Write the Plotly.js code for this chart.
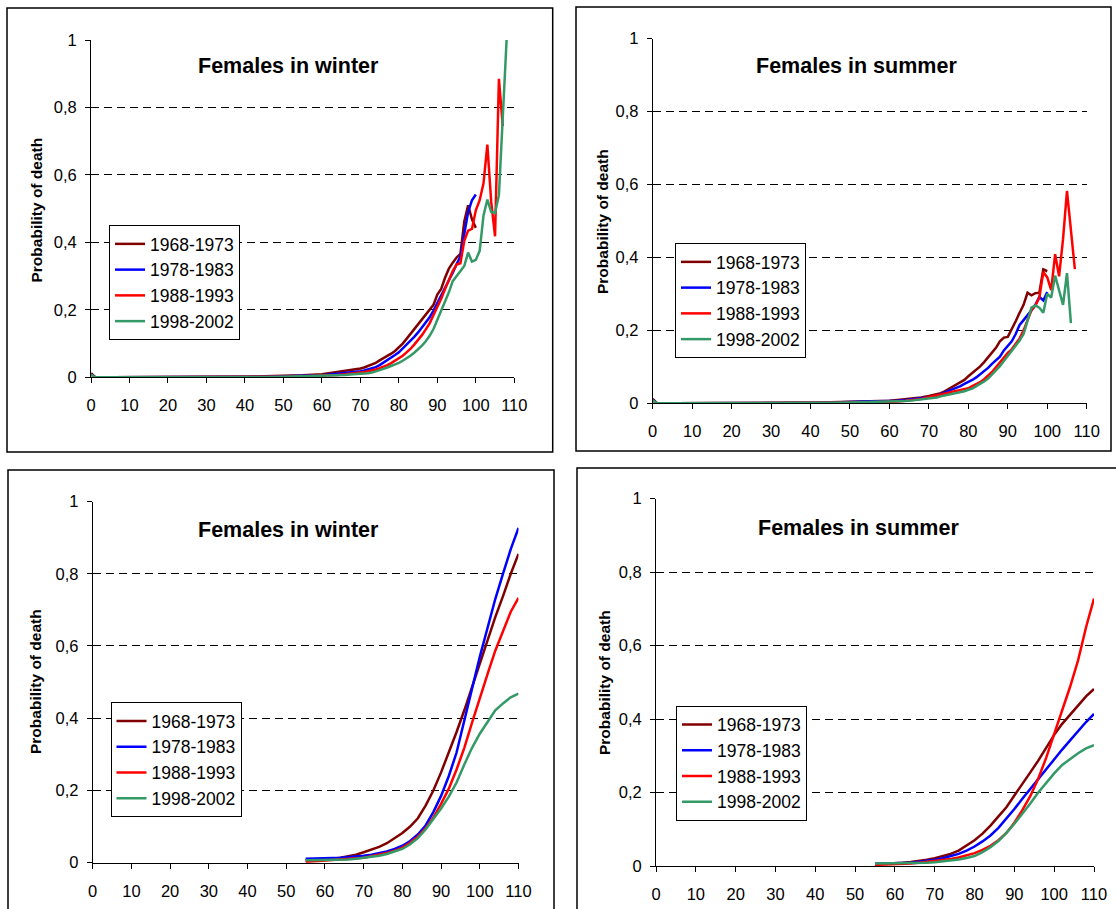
<!DOCTYPE html>
<html>
<head>
<meta charset="utf-8">
<script src="https://cdn.plot.ly/plotly-3.0.1.min.js"></script>
<style>
html,body{margin:0;padding:0;background:#fff;}
#chart{width:1116px;height:909px;}
</style>
</head>
<body>
<div id="chart"></div>
<script>
// ---------- DATA ----------
const seriesNames = ["1968-1973", "1978-1983", "1988-1993", "1998-2002"];
const panelTitles = ["Females in winter", "Females in summer", "Females in winter", "Females in summer"];
const yAxisTitle = "Probability of death";
const xTickVals = [0, 10, 20, 30, 40, 50, 60, 70, 80, 90, 100, 110];
const yTickVals = [0, 0.2, 0.4, 0.6, 0.8, 1];
const yTickText = ["0", "0,2", "0,4", "0,6", "0,8", "1"];

// Top panels: observed annual probabilities
const agesTop = [0, 1, 5, 10, 15, 20, 25, 30, 35, 40, 45, 50, 55, 60, 62, 64, 66, 68,
  70, 71, 72, 73, 74, 75, 76, 77, 78, 79, 80, 81, 82, 83, 84, 85, 86, 87, 88, 89,
  90, 91, 92, 93, 94, 95, 96, 97, 98, 99, 100, 101, 102, 103, 104, 105, 106, 107, 108];

const winter1968 = [0.012, 0.001, 0.0004, 0.0003, 0.0005, 0.0006, 0.0007, 0.0009, 0.0012, 0.0018, 0.003, 0.004, 0.006, 0.009, 0.012, 0.015, 0.018, 0.022,
  0.026, 0.029, 0.033, 0.037, 0.043, 0.050, 0.056, 0.062, 0.070, 0.078,
  0.088, 0.100, 0.114, 0.128, 0.142, 0.157, 0.170, 0.185, 0.199, 0.215,
  0.245, 0.262, 0.295, 0.322, 0.340, 0.355, 0.366, 0.462, 0.510, 0.468, 0.443];
const winter1978 = [0.010, 0.001, 0.0003, 0.0002, 0.0004, 0.0005, 0.0005, 0.0007, 0.0009, 0.0013, 0.002, 0.003, 0.004, 0.006, 0.008, 0.010, 0.012, 0.015,
  0.018, 0.020, 0.023, 0.026, 0.030, 0.036, 0.043, 0.050, 0.058, 0.066,
  0.074, 0.085, 0.095, 0.107, 0.120, 0.133, 0.148, 0.162, 0.178, 0.198,
  0.220, 0.240, 0.262, 0.285, 0.310, 0.335, 0.358, 0.425, 0.490, 0.525, 0.542];
const winter1988 = [0.008, 0.0006, 0.0002, 0.0002, 0.0003, 0.0004, 0.0004, 0.0005, 0.0007, 0.001, 0.0015, 0.002, 0.003, 0.004, 0.005, 0.007, 0.009, 0.011,
  0.014, 0.016, 0.018, 0.020, 0.023, 0.027, 0.031, 0.036, 0.042, 0.049,
  0.055, 0.064, 0.074, 0.084, 0.097, 0.110, 0.125, 0.142, 0.160, 0.185,
  0.207, 0.233, 0.262, 0.287, 0.315, 0.334, 0.338, 0.405, 0.435, 0.440,
  0.495, 0.525, 0.575, 0.690, 0.520, 0.418, 0.885, 0.745];
const winter1998 = [0.008, 0.0005, 0.0002, 0.0001, 0.0002, 0.0003, 0.0003, 0.0004, 0.0006, 0.0008, 0.0012, 0.002, 0.003, 0.004, 0.005, 0.006, 0.007, 0.009,
  0.010, 0.011, 0.012, 0.014, 0.017, 0.021, 0.025, 0.029, 0.033, 0.038,
  0.043, 0.049, 0.056, 0.064, 0.073, 0.083, 0.094, 0.107, 0.123, 0.143,
  0.170, 0.195, 0.222, 0.252, 0.285, 0.300, 0.315, 0.330, 0.370, 0.343,
  0.348, 0.375, 0.480, 0.527, 0.490, 0.487, 0.540, 0.760, 1.0];

const summer1968 = [0.012, 0.001, 0.0004, 0.0003, 0.0005, 0.0006, 0.0007, 0.0009, 0.0012, 0.0018, 0.003, 0.004, 0.005, 0.007, 0.009, 0.011, 0.013, 0.016,
  0.020, 0.022, 0.025, 0.028, 0.033, 0.039, 0.044, 0.050, 0.056, 0.064,
  0.074, 0.083, 0.092, 0.101, 0.113, 0.126, 0.140, 0.152, 0.170, 0.180,
  0.182, 0.206, 0.225, 0.248, 0.270, 0.303, 0.296, 0.302, 0.303, 0.367, 0.362];
const summer1978 = [0.010, 0.001, 0.0003, 0.0002, 0.0004, 0.0005, 0.0005, 0.0007, 0.0009, 0.0013, 0.002, 0.003, 0.004, 0.005, 0.007, 0.009, 0.011, 0.013,
  0.016, 0.018, 0.021, 0.025, 0.030, 0.034, 0.038, 0.042, 0.047, 0.053,
  0.058, 0.064, 0.071, 0.079, 0.088, 0.097, 0.108, 0.118, 0.128, 0.145,
  0.158, 0.170, 0.190, 0.215, 0.228, 0.240, 0.255, 0.270, 0.292, 0.282, 0.305];
const summer1988 = [0.008, 0.0006, 0.0002, 0.0002, 0.0003, 0.0004, 0.0004, 0.0005, 0.0007, 0.001, 0.0015, 0.002, 0.003, 0.004, 0.005, 0.007, 0.009, 0.012,
  0.017, 0.019, 0.021, 0.023, 0.026, 0.029, 0.032, 0.034, 0.037, 0.039,
  0.041, 0.047, 0.052, 0.058, 0.066, 0.075, 0.086, 0.099, 0.113, 0.127,
  0.138, 0.148, 0.163, 0.178, 0.200, 0.230, 0.255, 0.268, 0.290, 0.360,
  0.345, 0.310, 0.409, 0.348, 0.450, 0.582, 0.470, 0.368];
const summer1998 = [0.008, 0.0005, 0.0002, 0.0001, 0.0002, 0.0003, 0.0003, 0.0004, 0.0006, 0.0008, 0.0012, 0.002, 0.003, 0.004, 0.005, 0.006, 0.008, 0.010,
  0.012, 0.013, 0.016, 0.019, 0.021, 0.023, 0.025, 0.027, 0.029, 0.033,
  0.037, 0.040, 0.047, 0.053, 0.060, 0.068, 0.079, 0.090, 0.102, 0.116,
  0.130, 0.145, 0.160, 0.172, 0.190, 0.225, 0.262, 0.268, 0.262, 0.248,
  0.300, 0.290, 0.350, 0.310, 0.270, 0.357, 0.220];

// Bottom panels: smoothed probabilities
const agesBottom = [55, 58, 60, 62, 64, 66, 68, 70, 72, 74, 76, 78, 80, 82, 84, 86, 88, 90,
  92, 94, 96, 98, 100, 102, 104, 106, 108, 110];

const smWinter1968 = [0.006, 0.008, 0.009, 0.011, 0.014, 0.018, 0.022, 0.029, 0.036, 0.044, 0.054, 0.067, 0.082, 0.100, 0.123, 0.158, 0.200, 0.250,
  0.305, 0.362, 0.422, 0.487, 0.550, 0.615, 0.680, 0.738, 0.800, 0.855];
const smWinter1978 = [0.011, 0.011, 0.012, 0.013, 0.014, 0.015, 0.017, 0.019, 0.022, 0.026, 0.031, 0.038, 0.047, 0.060, 0.078, 0.103, 0.140, 0.185,
  0.240, 0.305, 0.390, 0.482, 0.570, 0.650, 0.730, 0.800, 0.868, 0.927];
const smWinter1988 = [0.002, 0.004, 0.005, 0.006, 0.008, 0.010, 0.012, 0.014, 0.018, 0.022, 0.027, 0.033, 0.042, 0.055, 0.072, 0.095, 0.125, 0.163,
  0.205, 0.258, 0.318, 0.388, 0.458, 0.522, 0.587, 0.643, 0.695, 0.733];
const smWinter1998 = [0.007, 0.007, 0.007, 0.008, 0.008, 0.009, 0.011, 0.013, 0.016, 0.019, 0.024, 0.030, 0.038, 0.051, 0.068, 0.092, 0.120, 0.150,
  0.183, 0.222, 0.272, 0.318, 0.357, 0.390, 0.422, 0.441, 0.458, 0.468];

const smSummer1968 = [0.005, 0.006, 0.007, 0.009, 0.011, 0.013, 0.017, 0.021, 0.026, 0.033, 0.042, 0.055, 0.070, 0.088, 0.110, 0.135, 0.160, 0.192,
  0.225, 0.255, 0.287, 0.322, 0.357, 0.387, 0.412, 0.437, 0.462, 0.482];
const smSummer1978 = [0.006, 0.006, 0.007, 0.008, 0.009, 0.011, 0.013, 0.017, 0.021, 0.026, 0.033, 0.042, 0.053, 0.067, 0.083, 0.104, 0.128, 0.155,
  0.183, 0.210, 0.238, 0.264, 0.290, 0.317, 0.342, 0.368, 0.392, 0.414];
const smSummer1988 = [0.003, 0.004, 0.005, 0.006, 0.007, 0.009, 0.011, 0.014, 0.016, 0.019, 0.023, 0.028, 0.035, 0.044, 0.055, 0.070, 0.090, 0.118,
  0.152, 0.190, 0.238, 0.295, 0.360, 0.425, 0.488, 0.560, 0.650, 0.728];
const smSummer1998 = [0.007, 0.007, 0.007, 0.007, 0.008, 0.008, 0.009, 0.010, 0.012, 0.014, 0.018, 0.022, 0.027, 0.038, 0.051, 0.068, 0.090, 0.115,
  0.142, 0.170, 0.200, 0.227, 0.252, 0.275, 0.292, 0.307, 0.320, 0.329];

// ---------- STYLE / LAYOUT ----------
const W = 1116, H = 909;
const colors = ["#800000", "#0000FF", "#FF0000", "#339966"];
const FONT = "Liberation Sans, Arial, Helvetica, sans-serif";
const px = v => v / W;
const py = v => (H - v) / H;

// plot-area pixel boxes [x0(age 0), x1(age 110), yTop(p=1), yBottom(p=0)]
const areas = [
  [91, 514.3, 40, 377.3],
  [652.7, 1086.7, 38.5, 403.3],
  [92.7, 518.5, 501.5, 862.7],
  [656, 1094, 498.7, 866]
];
const frames = [
  [7, 8, 552.7, 452],
  [576, 7, 1111, 451],
  [8, 470, 554, 915],
  [577, 468, 1125, 915]
];
const legendTopLeft = [[109, 225], [675, 243], [110.5, 702], [676, 705.5]];
const titlePos = [[288.5, 66], [856, 66], [289, 530], [858, 527.5]];
const yTitlePos = [[35.5, 210], [603, 222], [35, 682], [604.5, 682.5]];

const panelData = [
  [agesTop, [winter1968, winter1978, winter1988, winter1998]],
  [agesTop, [summer1968, summer1978, summer1988, summer1998]],
  [agesBottom, [smWinter1968, smWinter1978, smWinter1988, smWinter1998]],
  [agesBottom, [smSummer1968, smSummer1978, smSummer1988, smSummer1998]]
];

const traces = [];
const layout = {
  width: W, height: H,
  margin: {l: 0, r: 0, t: 0, b: 0, pad: 0},
  paper_bgcolor: "#fff", plot_bgcolor: "#fff",
  font: {family: FONT, color: "#000"},
  showlegend: true,
  shapes: [], annotations: []
};

panelData.forEach((pd, i) => {
  const n = i + 1;
  const xa = "x" + (n === 1 ? "" : n), ya = "y" + (n === 1 ? "" : n);
  const legName = "legend" + (n === 1 ? "" : n);
  const ages = pd[0];
  pd[1].forEach((vals, s) => {
    traces.push({
      type: "scatter", mode: "lines",
      x: ages.slice(0, vals.length), y: vals,
      name: seriesNames[s],
      line: {color: colors[s], width: 2.5},
      xaxis: xa, yaxis: ya, legend: legName,
      hoverinfo: "skip"
    });
  });
  const a = areas[i];
  layout["xaxis" + (n === 1 ? "" : n)] = {
    domain: [px(a[0]), px(a[1])], anchor: ya,
    range: [0, 110], tickvals: xTickVals,
    showline: true, linecolor: "#000", linewidth: 1,
    ticks: "outside", ticklen: 5, tickcolor: "#000", tickwidth: 1,
    showgrid: false, zeroline: false,
    tickfont: {family: FONT, size: 16.5, color: "#000"},
    ticklabelstandoff: 8
  };
  layout["yaxis" + (n === 1 ? "" : n)] = {
    domain: [py(a[3]), py(a[2])], anchor: xa,
    range: [0, 1], tickvals: yTickVals, ticktext: yTickText,
    showline: true, linecolor: "#000", linewidth: 1,
    ticks: "outside", ticklen: 5, tickcolor: "#000", tickwidth: 1,
    showgrid: true, gridcolor: "#000", gridwidth: 1, griddash: "8px,5px",
    zeroline: false,
    tickfont: {family: FONT, size: 16.5, color: "#000"},
    ticklabelstandoff: 5
  };
  layout[legName] = {
    x: px(legendTopLeft[i][0]), y: py(legendTopLeft[i][1]),
    xref: "paper", yref: "paper", xanchor: "left", yanchor: "top",
    bgcolor: "#fff", bordercolor: "#000", borderwidth: 1,
    font: {family: FONT, size: 17.5, color: "#000"},
    traceorder: "normal"
  };
  const f = frames[i];
  layout.shapes.push({
    type: "rect", xref: "paper", yref: "paper",
    x0: px(f[0]), x1: px(f[2]), y0: py(f[3]), y1: py(f[1]),
    line: {color: "#000", width: 1.5}, fillcolor: "rgba(0,0,0,0)", layer: "below"
  });
  layout.annotations.push({
    text: panelTitles[i], xref: "paper", yref: "paper",
    x: px(titlePos[i][0]), y: py(titlePos[i][1]),
    xanchor: "center", yanchor: "middle", showarrow: false,
    font: {family: FONT, size: 21.5, color: "#000", weight: "bold"}
  });
  layout.annotations.push({
    text: yAxisTitle, xref: "paper", yref: "paper",
    x: px(yTitlePos[i][0]), y: py(yTitlePos[i][1]),
    xanchor: "center", yanchor: "middle", showarrow: false, textangle: -90,
    font: {family: FONT, size: 15.5, color: "#000", weight: "bold"}
  });
});

Plotly.newPlot("chart", traces, layout, {staticPlot: true, displayModeBar: false});
</script>
</body>
</html>
